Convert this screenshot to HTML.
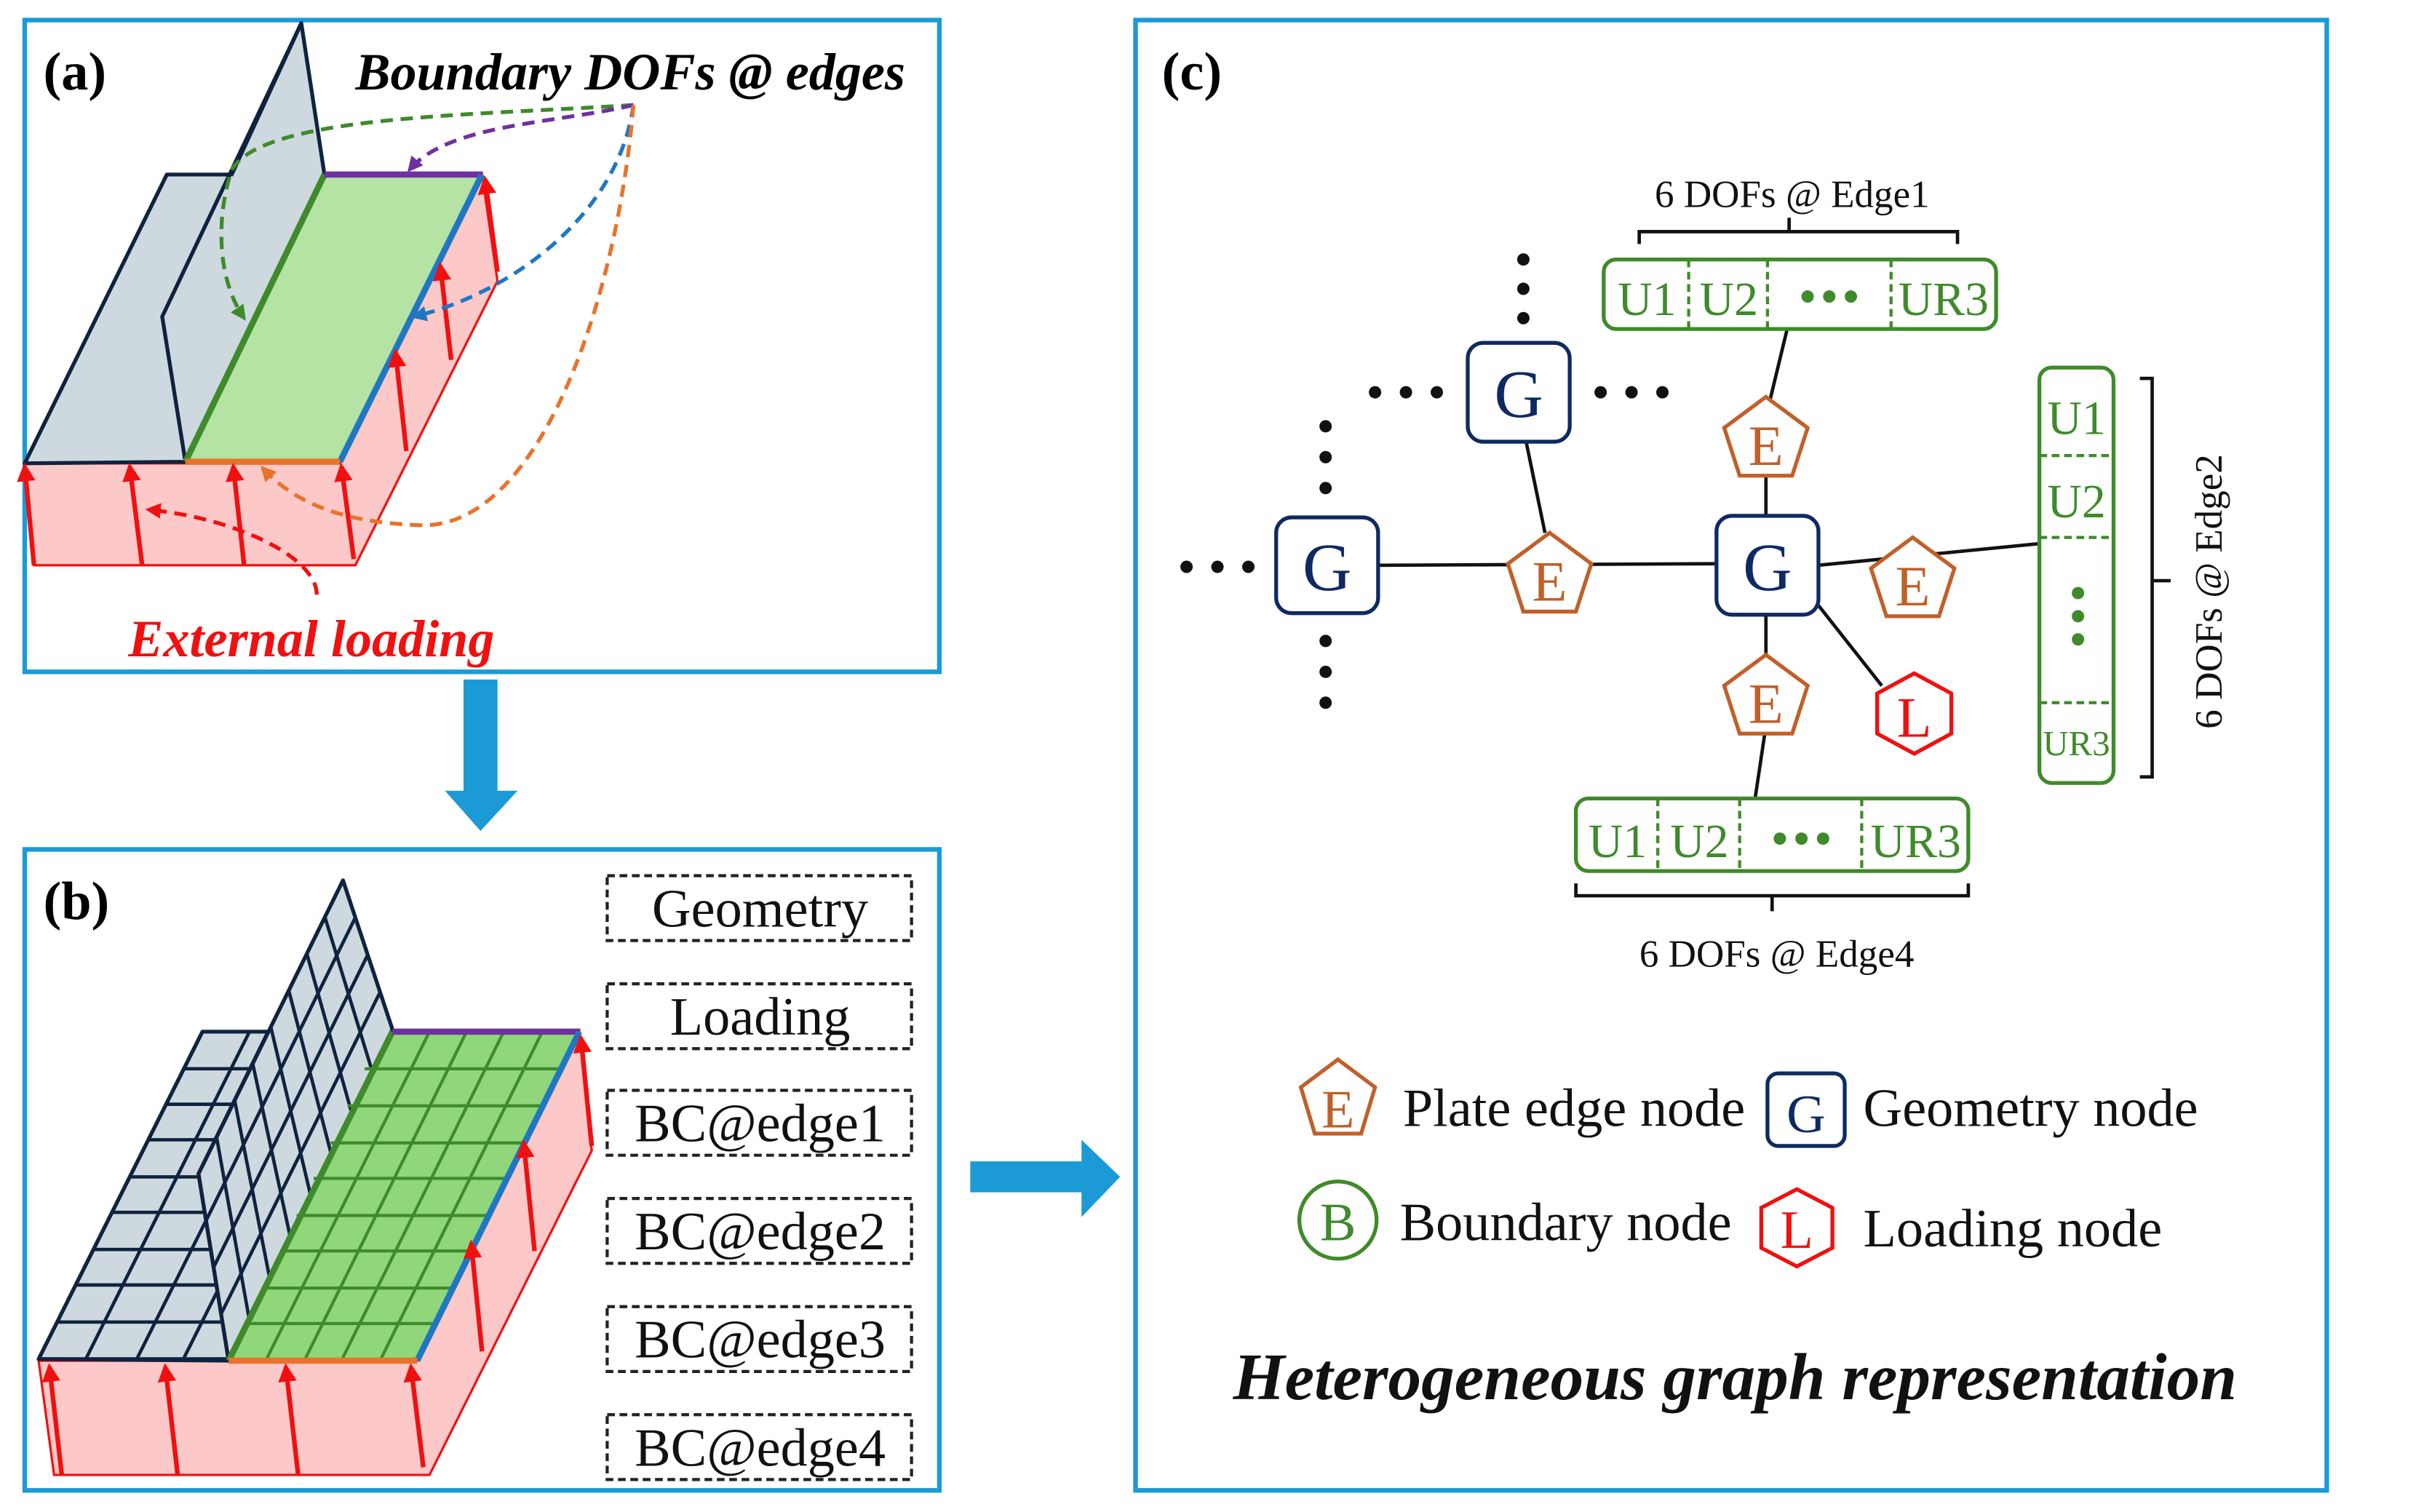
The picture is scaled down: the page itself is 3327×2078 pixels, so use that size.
<!DOCTYPE html>
<html><head><meta charset="utf-8"><style>html,body{margin:0;padding:0;background:#fff}svg{display:block}svg text{font-family:"Liberation Serif","Times New Roman",Times,serif}</style></head>
<body>
<svg width="3327" height="2078" viewBox="0 0 1567 979" preserveAspectRatio="none" xmlns="http://www.w3.org/2000/svg" style="font-family:'Liberation Serif',serif">
<defs>
<marker id="ar" viewBox="0 0 10 10" refX="8" refY="5" markerWidth="4" markerHeight="4" orient="auto"><path d="M0,0L10,5L0,10z" fill="#f01010"/></marker>
<marker id="mg" viewBox="0 0 10 10" refX="8" refY="5" markerWidth="4" markerHeight="4" orient="auto"><path d="M0,0L10,5L0,10z" fill="#3f8a2a"/></marker>
<marker id="mp" viewBox="0 0 10 10" refX="8" refY="5" markerWidth="4" markerHeight="4" orient="auto"><path d="M0,0L10,5L0,10z" fill="#7030a0"/></marker>
<marker id="mb" viewBox="0 0 10 10" refX="8" refY="5" markerWidth="4" markerHeight="4" orient="auto"><path d="M0,0L10,5L0,10z" fill="#1f77c4"/></marker>
<marker id="mo" viewBox="0 0 10 10" refX="8" refY="5" markerWidth="4" markerHeight="4" orient="auto"><path d="M0,0L10,5L0,10z" fill="#e8732a"/></marker>
<clipPath id="lowbox"><polygon points="25,880 131,668 173.6,668 128.5,760 148,881"/></clipPath>
</defs>
<rect x="16" y="13" width="592" height="422" fill="none" stroke="#1b9ad6" stroke-width="3"/>
<rect x="16" y="550" width="592" height="415" fill="none" stroke="#1b9ad6" stroke-width="3"/>
<rect x="735" y="13" width="771" height="952" fill="none" stroke="#1b9ad6" stroke-width="3"/>

<!-- (a) -->
<text x="28" y="58" font-size="35" font-weight="bold">(a)</text>
<text x="230" y="58" font-size="34" font-weight="bold" font-style="italic">Boundary DOFs @ edges</text>
<polygon points="16,300 220,300 312,113 322,182 230,366 22,366" fill="#fdc8c8" stroke="#f01010" stroke-width="1.5"/>
<polygon points="16,300 108,113 150,113 195,15 210,113 120,299" fill="#ced9df" stroke="#0f2340" stroke-width="2.5" stroke-linejoin="round"/>
<polyline points="195,15 105,205 120,299" fill="none" stroke="#0f2340" stroke-width="2.5"/>
<polygon points="120,299 220,299 312,113 210,113" fill="#b4e3a4"/>
<line x1="120" y1="299" x2="210" y2="113" stroke="#3f8a2a" stroke-width="4"/>
<line x1="210" y1="113" x2="312" y2="113" stroke="#7030a0" stroke-width="4"/>
<line x1="220" y1="299" x2="312" y2="113" stroke="#1f77c4" stroke-width="4"/>
<line x1="120" y1="299" x2="220" y2="299" stroke="#e8732a" stroke-width="4"/>
<g stroke="#f01010" stroke-width="3" marker-end="url(#ar)">
<line x1="22" y1="366" x2="16" y2="302"/><line x1="92" y1="366" x2="84" y2="302"/><line x1="158" y1="366" x2="151" y2="302"/><line x1="229" y1="362" x2="221" y2="302"/>
<line x1="263" y1="292" x2="256" y2="228"/><line x1="292" y1="233" x2="285" y2="172"/><line x1="322" y1="176" x2="314" y2="116"/>
</g>
<g fill="none" stroke-width="2.5" stroke-dasharray="8,5">
<path d="M410,68 C300,75 170,75 150,110 C140,140 140,180 158,206" stroke="#3f8a2a" marker-end="url(#mg)"/>
<path d="M410,68 C360,80 290,80 265,110" stroke="#7030a0" marker-end="url(#mp)"/>
<path d="M410,68 C400,140 330,190 268,205" stroke="#1f77c4" marker-end="url(#mb)"/>
<path d="M410,68 C400,190 350,345 270,340 C220,338 190,325 170,303" stroke="#e8732a" marker-end="url(#mo)"/>
<path d="M205,385 C205,360 150,335 96,330" stroke="#f01010" marker-end="url(#ar)"/>
</g>
<text x="83" y="425" font-size="34" font-weight="bold" font-style="italic" fill="#f01010">External loading</text>

<polygon points="300,440 322,440 322,512 335,512 311,538 288,512 300,512" fill="#1b9ad6"/>

<!-- (b) -->
<text x="28" y="595" font-size="35" font-weight="bold">(b)</text>
<polygon points="25,881 270,881 375,668 383,745 278,955 35,955" fill="#fdc8c8" stroke="#f01010" stroke-width="1.5"/>
<polygon points="25,880 131,668 173.6,668 128.5,760 148,881" fill="#ced9df" stroke="#0f2340" stroke-width="2.5" stroke-linejoin="round"/>
<g clip-path="url(#lowbox)" stroke="#0f2340" stroke-width="2.2">
<line x1="0" y1="692" x2="250" y2="692"/><line x1="0" y1="715" x2="250" y2="715"/><line x1="0" y1="738" x2="250" y2="738"/><line x1="0" y1="762" x2="250" y2="762"/><line x1="0" y1="785" x2="250" y2="785"/><line x1="0" y1="809" x2="250" y2="809"/><line x1="0" y1="832" x2="250" y2="832"/><line x1="0" y1="856" x2="250" y2="856"/>
<line x1="55.5" y1="880" x2="161.5" y2="668"/><line x1="88.5" y1="880" x2="194.5" y2="668"/><line x1="118.7" y1="880" x2="224.7" y2="668"/>
</g>
<polygon points="222,570 128.5,760 148,881 254,666.5" fill="#ced9df" stroke="#0f2340" stroke-width="2.5" stroke-linejoin="round"/>
<g stroke="#0f2340" stroke-width="2.2">
<line x1="230" y1="594.1" x2="133.4" y2="790.3"/><line x1="238" y1="618.3" x2="138.3" y2="820.5"/><line x1="246" y1="642.4" x2="143.1" y2="850.8"/>
<line x1="210.3" y1="593.8" x2="240.8" y2="693.3"/><line x1="198.6" y1="617.5" x2="227.5" y2="720.1"/><line x1="186.9" y1="641.3" x2="214.3" y2="747"/><line x1="175.3" y1="665" x2="201" y2="773.8"/><line x1="163.6" y1="688.8" x2="187.8" y2="800.6"/><line x1="151.9" y1="712.5" x2="174.5" y2="827.4"/><line x1="140.2" y1="736.3" x2="161.3" y2="854.1"/>
</g>
<line x1="25" y1="880" x2="148" y2="880" stroke="#0f2340" stroke-width="2.5"/>
<polygon points="148,881 270,881 375,668 254,668" fill="#8fd77a"/>
<g stroke="#3f8a2a" stroke-width="2">
<line x1="160" y1="857" x2="282" y2="857"/><line x1="171" y1="834" x2="293" y2="834"/><line x1="182" y1="810" x2="305" y2="810"/><line x1="192" y1="787" x2="316" y2="787"/><line x1="203" y1="763" x2="328" y2="763"/><line x1="214" y1="740" x2="339" y2="740"/><line x1="225" y1="716" x2="351" y2="716"/><line x1="236" y1="692" x2="363" y2="692"/>
<line x1="172" y1="881" x2="278" y2="668"/><line x1="197" y1="881" x2="302" y2="668"/><line x1="221" y1="881" x2="326" y2="668"/><line x1="246" y1="881" x2="351" y2="668"/>
</g>
<line x1="148" y1="881" x2="254" y2="668" stroke="#3f8a2a" stroke-width="4"/>
<line x1="254" y1="668" x2="375" y2="668" stroke="#7030a0" stroke-width="4"/>
<line x1="270" y1="881" x2="375" y2="668" stroke="#1f77c4" stroke-width="4"/>
<line x1="148" y1="881" x2="270" y2="881" stroke="#e8732a" stroke-width="4"/>
<g stroke="#f01010" stroke-width="3" marker-end="url(#ar)">
<line x1="40" y1="955" x2="32" y2="885"/><line x1="115" y1="955" x2="107" y2="885"/><line x1="193" y1="955" x2="185" y2="885"/><line x1="274" y1="950" x2="266" y2="885"/>
<line x1="312" y1="875" x2="305" y2="805"/><line x1="346" y1="810" x2="339" y2="740"/><line x1="383" y1="742" x2="376" y2="672"/>
</g>
<g fill="none" stroke="#222" stroke-width="2" stroke-dasharray="5,3">
<rect x="393" y="567" width="197" height="42"/><rect x="393" y="637" width="197" height="42"/><rect x="393" y="706" width="197" height="42"/><rect x="393" y="776" width="197" height="42"/><rect x="393" y="846" width="197" height="42"/><rect x="393" y="916" width="197" height="42"/>
</g>
<g font-size="35" text-anchor="middle" fill="#111">
<text x="492" y="600">Geometry</text><text x="492" y="670">Loading</text><text x="492" y="739">BC@edge1</text><text x="492" y="809">BC@edge2</text><text x="492" y="879">BC@edge3</text><text x="492" y="949">BC@edge4</text>
</g>

<polygon points="628,752 700,752 700,738 725,762 700,788 700,772 628,772" fill="#1b9ad6"/>

<!-- (c) -->
<text x="752" y="58" font-size="35" font-weight="bold">(c)</text>
<g stroke="#111" stroke-width="2.2">
<line x1="892" y1="366" x2="1111" y2="365"/>
<line x1="988" y1="287" x2="1000" y2="345"/>
<line x1="1177" y1="366" x2="1320" y2="352"/>
<line x1="1143" y1="334" x2="1143" y2="300"/><line x1="1143" y1="270" x2="1157" y2="212"/>
<line x1="1143" y1="398" x2="1143" y2="430"/><line x1="1143" y1="470" x2="1136" y2="517"/>
<line x1="1177" y1="392" x2="1218" y2="444"/>
</g>
<g fill="#111">
<circle cx="986" cy="168" r="4"/><circle cx="986" cy="187" r="4"/><circle cx="986" cy="206" r="4"/>
<circle cx="890" cy="254" r="4"/><circle cx="910" cy="254" r="4"/><circle cx="930" cy="254" r="4"/>
<circle cx="1036" cy="254" r="4"/><circle cx="1056" cy="254" r="4"/><circle cx="1076" cy="254" r="4"/>
<circle cx="768" cy="367" r="4"/><circle cx="788" cy="367" r="4"/><circle cx="808" cy="367" r="4"/>
<circle cx="858" cy="276" r="4"/><circle cx="858" cy="296" r="4"/><circle cx="858" cy="316" r="4"/>
<circle cx="858" cy="415" r="4"/><circle cx="858" cy="435" r="4"/><circle cx="858" cy="455" r="4"/>
</g>
<g fill="#fff" stroke="#0f2a62" stroke-width="2.5">
<rect x="950" y="222" width="66" height="64" rx="10"/><rect x="826" y="335" width="66" height="62" rx="10"/><rect x="1111" y="334" width="66" height="64" rx="10"/>
</g>
<g font-size="44" fill="#0f2a62" text-anchor="middle">
<text x="983" y="270">G</text><text x="859" y="382">G</text><text x="1144" y="382">G</text>
</g>
<g fill="#fff" stroke="#c0602a" stroke-width="2.5">
<polygon points="1143,257 1170,277 1160,308 1126,308 1116,277"/>
<polygon points="1003,345 1030,365 1020,396 986,396 976,365"/>
<polygon points="1238,348 1265,368 1255,399 1221,399 1211,368"/>
<polygon points="1143,424 1170,444 1160,475 1126,475 1116,444"/>
</g>
<g font-size="37" fill="#c0602a" text-anchor="middle">
<text x="1143" y="301">E</text><text x="1003" y="389">E</text><text x="1238" y="392">E</text><text x="1143" y="468">E</text>
</g>
<polygon points="1239,436 1263,449 1263,475 1239,488 1215,475 1215,449" fill="#fff" stroke="#f01010" stroke-width="2.5"/>
<text x="1239" y="477" font-size="37" fill="#f01010" text-anchor="middle">L</text>

<g fill="none" stroke="#3f8a2a" stroke-width="2.5">
<rect x="1038" y="168" width="254" height="45" rx="8"/>
<rect x="1020" y="517" width="254" height="47" rx="8"/>
<rect x="1320" y="238" width="48" height="269" rx="8"/>
</g>
<g stroke="#3f8a2a" stroke-width="2" stroke-dasharray="5,3">
<line x1="1093" y1="168" x2="1093" y2="213"/><line x1="1144" y1="168" x2="1144" y2="213"/><line x1="1224" y1="168" x2="1224" y2="213"/>
<line x1="1073" y1="517" x2="1073" y2="564"/><line x1="1126" y1="517" x2="1126" y2="564"/><line x1="1205" y1="517" x2="1205" y2="564"/>
<line x1="1320" y1="295" x2="1368" y2="295"/><line x1="1320" y1="348" x2="1368" y2="348"/><line x1="1320" y1="455" x2="1368" y2="455"/>
</g>
<g font-size="31" fill="#3f8a2a" text-anchor="middle">
<text x="1066" y="204">U1</text><text x="1119" y="204">U2</text><text x="1258" y="204">UR3</text>
<text x="1047" y="555">U1</text><text x="1100" y="555">U2</text><text x="1240" y="555">UR3</text>
<text x="1344" y="281">U1</text><text x="1344" y="335">U2</text><text x="1344" y="489" font-size="23">UR3</text>
</g>
<g fill="#3f8a2a">
<circle cx="1170" cy="192" r="4"/><circle cx="1184" cy="192" r="4"/><circle cx="1198" cy="192" r="4"/>
<circle cx="1152" cy="543" r="4"/><circle cx="1166" cy="543" r="4"/><circle cx="1180" cy="543" r="4"/>
<circle cx="1345" cy="384" r="4"/><circle cx="1345" cy="399" r="4"/><circle cx="1345" cy="414" r="4"/>
</g>
<g fill="none" stroke="#111" stroke-width="2.2">
<path d="M1061,158 L1061,150 L1267,150 L1267,158 M1158,150 L1158,141"/>
<path d="M1020,572 L1020,580 L1274,580 L1274,572 M1147,580 L1147,590"/>
<path d="M1385,245 L1393,245 L1393,503 L1385,503 M1393,376 L1405,376"/>
</g>
<g font-size="25" fill="#111" text-anchor="middle">
<text x="1160" y="134">6 DOFs @ Edge1</text>
<text x="1150" y="626">6 DOFs @ Edge4</text>
<text x="0" y="0" transform="translate(1438,383) rotate(-90)">6 DOFs @ Edge2</text>
</g>

<polygon points="866,686 890,704 881,734 851,734 842,704" fill="#fff" stroke="#c0602a" stroke-width="2.5"/>
<text x="866" y="730" font-size="35" fill="#c0602a" text-anchor="middle">E</text>
<text x="908" y="729" font-size="35" fill="#111">Plate edge node</text>
<rect x="1144" y="695" width="50" height="47" rx="7" fill="#fff" stroke="#0f2a62" stroke-width="2.5"/>
<text x="1169" y="733" font-size="35" fill="#0f2a62" text-anchor="middle">G</text>
<text x="1206" y="729" font-size="35" fill="#111">Geometry node</text>
<circle cx="866" cy="790" r="25" fill="#fff" stroke="#3f8a2a" stroke-width="2.5"/>
<text x="866" y="803" font-size="35" fill="#3f8a2a" text-anchor="middle">B</text>
<text x="906" y="803" font-size="35" fill="#111">Boundary node</text>
<polygon points="1163,770 1186,782 1186,808 1163,820 1140,808 1140,782" fill="#fff" stroke="#f01010" stroke-width="2.5"/>
<text x="1163" y="808" font-size="35" fill="#f01010" text-anchor="middle">L</text>
<text x="1206" y="807" font-size="35" fill="#111">Loading node</text>
<text x="1123" y="906" font-size="43" font-weight="bold" font-style="italic" fill="#111" text-anchor="middle">Heterogeneous graph representation</text>
</svg>
</body></html>
